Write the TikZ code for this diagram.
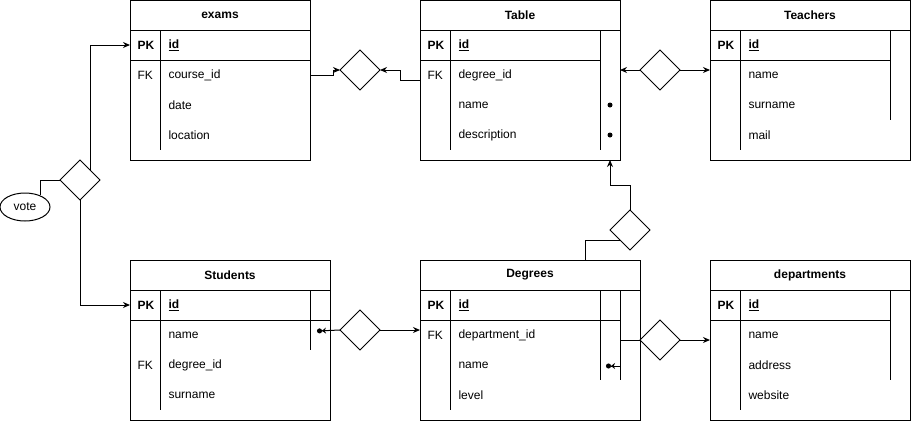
\documentclass[tikz,border=0pt]{standalone}
\usepackage{fontspec}
\setmainfont{Liberation Sans}
\usetikzlibrary{arrows.meta,positioning,shapes.geometric}

\tikzset{
  entity/.style={draw, anchor=north west, minimum height=160pt, inner sep=0pt, outer sep=0pt},
  title/.style={font=\fontsize{12}{14}\selectfont\bfseries, inner sep=0pt},
  field/.style={anchor=west, inner sep=0pt},
  pk/.style={field, font=\fontsize{12}{14}\selectfont\bfseries},
  rel/.style={draw, diamond, minimum width=40pt, minimum height=40pt, inner sep=0pt, outer sep=0pt},
  arr/.style={-{Stealth[length=7pt,width=6pt]}},
  ermark/.style={-{Stealth[length=4pt,width=6pt]Circle[length=5pt]}},
}

\begin{document}
\begin{tikzpicture}[x=1pt, y=-1pt, line width=1pt, font=\fontsize{12}{14}\selectfont]
    \useasboundingbox (0,0) rectangle (911,421);

    % exams
    \node[entity, minimum width=180pt] (exams) at (130,0) {};
    \node[title] (ex-title) at (220,15) {exams};
    \draw (130,30) -- (310,30) (130,60) -- (310,60) (160,30) -- (160,150);
    \node[pk] (ex-pk) at (137,45) {PK};
    \node[pk] (ex-id) at (168,45) {\underline{id}};
    \node[field] (ex-fk) at (137,75) {FK};
    \node[field] (ex-course) at (168,75) {course\_id};
    \node[field] (ex-date) at (168,105) {date};
    \node[field] (ex-loc) at (168,135) {location};

    % Table
    \node[entity, minimum width=200pt] (tbl) at (420,0) {};
    \node[title] (tbl-title) at (520,15) {Table};
    \draw (420,30) -- (620,30) (420,60) -- (600,60) (450,30) -- (450,150) (600,30) -- (600,150);
    \node[pk] (tbl-pk) at (427,45) {PK};
    \node[pk] (tbl-id) at (458,45) {\underline{id}};
    \node[field] (tbl-fk) at (427,75) {FK};
    \node[field] (tbl-deg) at (458,75) {degree\_id};
    \node[field] (tbl-name) at (458,105) {name};
    \node[field] (tbl-desc) at (458,135) {description};
    \fill (610,105) circle (2.5) (610,135) circle (2.5);
    \coordinate (tbl-in) at (610,160);

    % Teachers
    \node[entity, minimum width=200pt] (teachers) at (710,0) {};
    \node[title] (te-title) at (810,15) {Teachers};
    \draw (710,30) -- (910,30) (710,60) -- (890,60) (740,30) -- (740,150) (890,30) -- (890,120);
    \node[pk] (te-pk) at (717,45) {PK};
    \node[pk] (te-id) at (748,45) {\underline{id}};
    \node[field] (te-name) at (748,75) {name};
    \node[field] (te-surname) at (748,105) {surname};
    \node[field] (te-mail) at (748,135) {mail};

    % Students
    \node[entity, minimum width=200pt] (students) at (130,260) {};
    \node[title] (st-title) at (230,275) {Students};
    \draw (130,290) -- (330,290) (130,320) -- (330,320) (160,290) -- (160,410) (310,290) -- (310,350);
    \node[pk] (st-pk) at (137,305) {PK};
    \node[pk] (st-id) at (168,305) {\underline{id}};
    \node[field] (st-name) at (168,335) {name};
    \node[field] (st-fk) at (137,365) {FK};
    \node[field] (st-deg) at (168,365) {degree\_id};
    \node[field] (st-surname) at (168,395) {surname};
    \coordinate (st-in) at (317,331);

    % Degrees
    \node[entity, minimum width=220pt] (degrees) at (420,260) {};
    \node[title] (dg-title) at (530,275) {Degrees};
    \draw (420,290) -- (640,290) (420,320) -- (620,320) (450,290) -- (450,410)
          (600,290) -- (600,380) (620,290) -- (620,380);
    \node[pk] (dg-pk) at (427,305) {PK};
    \node[pk] (dg-id) at (458,305) {\underline{id}};
    \node[field] (dg-fk) at (427,335) {FK};
    \node[field] (dg-dep) at (458,335) {department\_id};
    \node[field] (dg-name) at (458,365) {name};
    \node[field] (dg-level) at (458,395) {level};
    \coordinate (dg-out) at (585,260);
    \coordinate (dg-col) at (620,366);
    \coordinate (dg-in) at (606,366);

    % departments
    \node[entity, minimum width=200pt] (depts) at (710,260) {};
    \node[title] (dp-title) at (810,275) {departments};
    \draw (710,290) -- (910,290) (710,320) -- (890,320) (740,290) -- (740,410) (890,290) -- (890,380);
    \node[pk] (dp-pk) at (717,305) {PK};
    \node[pk] (dp-id) at (748,305) {\underline{id}};
    \node[field] (dp-name) at (748,335) {name};
    \node[field] (dp-addr) at (748,365) {address};
    \node[field] (dp-web) at (748,395) {website};

    % relationships
    \node[rel] (ex-rel) at (360,70) {};
    \node[rel] (tt-rel) at (660,70) {};
    \node[rel] (dt-rel) at (630,230) {};
    \node[rel] (vote-rel) at (80,180) {};
    \node[rel] (sd-rel) at (360,330) {};
    \node[rel] (dd-rel) at (660,340) {};
    \node[draw, ellipse, minimum width=50pt, minimum height=28pt, inner sep=0pt] (vote) at (25,207) {vote};

    % connectors
    \draw[arr] (exams.east |- ex-course) -- ++(23,0) |- (ex-rel.west);
    \draw[arr] (tbl.west) -- ++(-20,0) |- (ex-rel.east);
    \draw[arr] (tt-rel.west) -- (tt-rel.west -| tbl.east);
    \draw[arr] (tt-rel.east) -- (tt-rel.east -| teachers.west);
    \draw[arr] (dt-rel.north) -- ++(0,-25) -| (tbl-in);
    \draw (dg-out) |- (dt-rel.south west);
    \draw[arr] (vote-rel.north east) |- (exams.west |- ex-pk);
    \draw[arr] (vote-rel.south) |- (students.west |- st-pk);
    \draw (vote-rel.west) -| (vote.37);
    \draw[ermark] (sd-rel.west) -- (st-in);
    \draw[arr] (sd-rel.east) -- (sd-rel.east -| degrees.west);
    \draw (dd-rel.west) -- ++(-20,0);
    \draw[arr] (dd-rel.east) -- (dd-rel.east -| depts.west);
    \draw[ermark] (dg-col) -- (dg-in);
  \end{tikzpicture}
\end{document}
